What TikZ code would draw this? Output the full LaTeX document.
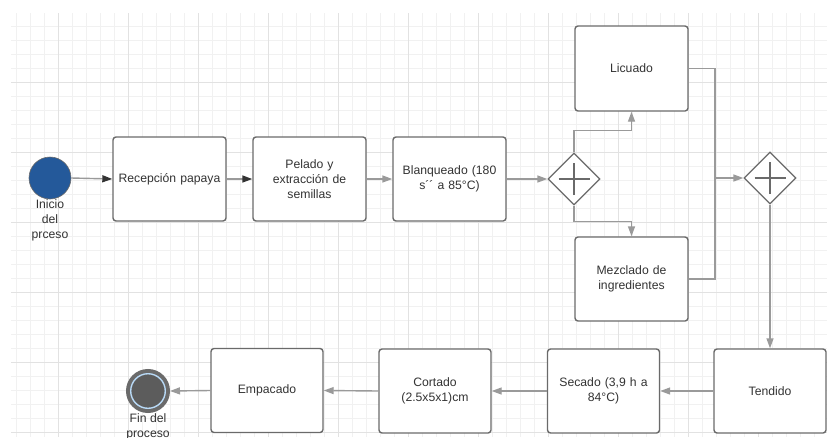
\documentclass[tikz,border=0pt]{standalone}
\usepackage{fontspec}
\setmainfont{Liberation Sans}
\usetikzlibrary{arrows.meta,shapes.geometric}
\definecolor{gridminor}{HTML}{F1F1F1}
\definecolor{gridmajor}{HTML}{E2E2E2}
\definecolor{boxline}{HTML}{6A6A6A}
\definecolor{conn}{HTML}{9A9A9A}
\definecolor{txt}{HTML}{333333}
\definecolor{startblue}{HTML}{24599A}
\definecolor{endfill}{HTML}{5C5C5C}
\definecolor{endring}{HTML}{B9DAF7}
\tikzset{
  stepbox/.style={draw=boxline, line width=1.4pt, rounded corners=3pt, fill=white,
    minimum width=113pt, minimum height=84pt, align=center, text width=106pt,
    text=txt, font=\fontsize{12.2}{15}\selectfont, inner sep=0pt},
  gate/.style={diamond, draw=boxline, line width=1.3pt, fill=white,
    minimum width=52pt, minimum height=52pt, inner sep=0pt},
  plusline/.style={draw=boxline, line width=1.3pt},
  conline/.style={draw=conn, line width=1.4pt},
  tipgray/.style={-{Triangle[length=10pt,width=7pt]}, conn},
  tipdark/.style={-{Triangle[length=10pt,width=7pt,fill=txt,color=txt]}},
  evlabel/.style={text=txt, font=\fontsize{12.2}{15}\selectfont, align=center, inner sep=0pt}
}
\begin{document}
\begin{tikzpicture}[x=1pt,y=-1pt]
\useasboundingbox (0,0) rectangle (827,437);
\fill[white] (0,0) rectangle (827,437);
% grid
\foreach \x in {16,30,...,826} \draw[gridminor, line width=0.8pt] (\x,13) -- (\x,437);
\foreach \y in {26,40,...,436} \draw[gridminor, line width=0.8pt] (11,\y) -- (827,\y);
\foreach \x in {58,128,...,826} \draw[gridmajor, line width=0.9pt] (\x,13) -- (\x,437);
\foreach \y in {82,152,...,436} \draw[gridmajor, line width=0.9pt] (11,\y) -- (827,\y);

% nodes
\node[circle, draw=boxline, line width=0.6pt, fill=startblue, minimum size=42pt, inner sep=0pt] (start) at (50,178) {};
\node[evlabel, anchor=north] (startlbl) at (start.south) {Inicio\\del\\prceso};
\node[stepbox] (rec) at (169.5,179) {Recepción papaya};
\node[stepbox] (pel) at (309.5,179) {Pelado y\\extracción de\\semillas};
\node[stepbox] (bla) at (449.5,179) {Blanqueado (180\\s´´ a 85°C)};
\node[gate] (g1) at (574,179) {};
\node[stepbox, minimum height=85pt] (lic) at (631.5,68.5) {Licuado};
\node[stepbox] (mez) at (631.5,279) {Mezclado de\\ingredientes};
\node[gate] (g2) at (770,178) {};
\node[stepbox, minimum width=112pt] (ten) at (770,391) {Tendido};
\node[stepbox, minimum width=112pt] (sec) at (603.5,391) {Secado (3,9 h a\\84°C)};
\node[stepbox, minimum width=112pt] (cor) at (435,391) {Cortado\\(2.5x5x1)cm};
\node[stepbox, minimum width=112pt] (emp) at (267,390.5) {Empacado};
\node[circle, draw=boxline, line width=4pt, fill=endfill, minimum size=40pt, inner sep=0pt] (end) at (148,391) {};
\draw[endring, line width=1.4pt] (end.center) circle (17.3pt);
\node[evlabel, anchor=north] (endlbl) at (end.south) {Fin del\\proceso};

% plus signs
\draw[plusline] ([xshift=-15.5pt]g1.center) -- ([xshift=15.5pt]g1.center);
\draw[plusline] ([yshift=-16pt]g1.center) -- ([yshift=16pt]g1.center);
\draw[plusline] ([xshift=-15.5pt]g2.center) -- ([xshift=15.5pt]g2.center);
\draw[plusline] ([yshift=-16pt]g2.center) -- ([yshift=16pt]g2.center);

% connectors
\coordinate (j) at (715,178);
\draw[conline, tipdark] (start.east) -- (rec.west);
\draw[conline, tipdark] (rec.east) -- (pel.west);
\draw[conline, tipgray] (pel.east) -- (bla.west);
\draw[conline, tipgray] (bla.east) -- (g1.west);
\draw[conline, tipgray] (g1.north) -- ++(0,-22) -| (lic.south);
\draw[conline, tipgray] (g1.south) -- ++(0,16) -| (mez.north);
\draw[conline, tipgray] (lic.east) -| (j) -- (g2.west);
\draw[conline] (mez.east) -| (j);
\draw[conline, tipgray] (g2.south) -- (ten.north);
\draw[conline, tipgray] (ten.west) -- (sec.east);
\draw[conline, tipgray] (sec.west) -- (cor.east);
\draw[conline, tipgray] (cor.west) -- (emp.east);
\draw[conline, tipgray] (emp.west) -- (end.east);
\end{tikzpicture}
\end{document}
